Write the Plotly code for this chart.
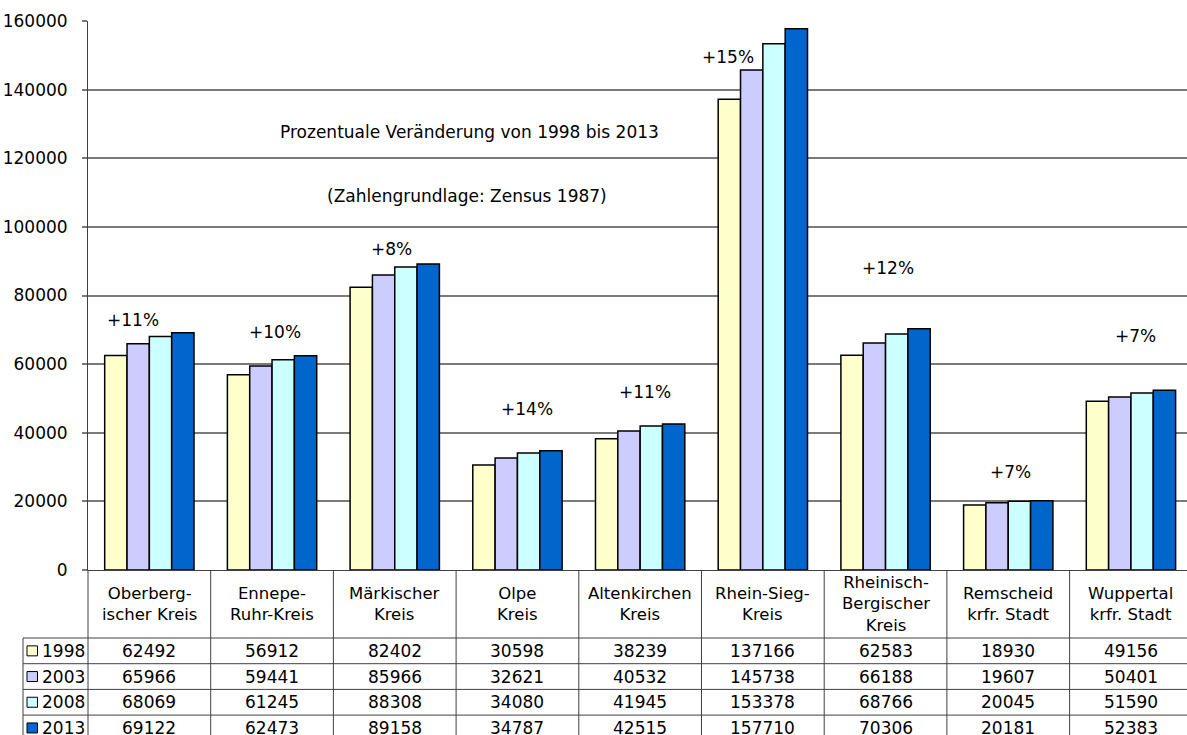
import plotly.graph_objects as go

# --- data -------------------------------------------------------------------
categories = [
    "Oberberg-<br>ischer Kreis",
    "Ennepe-<br>Ruhr-Kreis",
    "Märkischer<br>Kreis",
    "Olpe<br>Kreis",
    "Altenkirchen<br>Kreis",
    "Rhein-Sieg-<br>Kreis",
    "Rheinisch-<br>Bergischer<br>Kreis",
    "Remscheid<br>krfr. Stadt",
    "Wuppertal<br>krfr. Stadt",
]
years = ["1998", "2003", "2008", "2013"]
values_1998 = [62492, 56912, 82402, 30598, 38239, 137166, 62583, 18930, 49156]
values_2003 = [65966, 59441, 85966, 32621, 40532, 145738, 66188, 19607, 50401]
values_2008 = [68069, 61245, 88308, 34080, 41945, 153378, 68766, 20045, 51590]
values_2013 = [69122, 62473, 89158, 34787, 42515, 157710, 70306, 20181, 52383]
change_labels = ["+11%", "+10%", "+8%", "+14%", "+11%", "+15%", "+12%", "+7%", "+7%"]
y_ticks = [0, 20000, 40000, 60000, 80000, 100000, 120000, 140000, 160000]

series = [values_1998, values_2003, values_2008, values_2013]
colors = ["#FFFFCC", "#CCCCFF", "#CCFFFF", "#0066CC"]

# --- geometry ---------------------------------------------------------------
W, H = 1187, 735
M_L, M_T, M_B = 88, 21, 165
PLOT_W = W - M_L
PLOT_H = H - M_T - M_B
CAT_PX = 122.7
X0 = -0.5
X1 = X0 + PLOT_W / CAT_PX
FONT = "DejaVu Sans"
LINE = "#404040"
NUM_SIZE = 17
TXT_SIZE = 16.5


def px_x(px):
    return (px - M_L) / PLOT_W


def px_y(py):
    return (H - M_B - py) / PLOT_H


def cat_x(v):
    return (v - X0) / (X1 - X0)


def text_note(x, y, text, size=NUM_SIZE, xanchor="center", xref="paper", yref="paper"):
    return dict(x=x, y=y, xref=xref, yref=yref, text=text, showarrow=False,
                xanchor=xanchor, yanchor="middle",
                font=dict(family=FONT, size=size, color="black"))


fig = go.Figure()
xs = list(range(len(categories)))
for name, vals, col in zip(years, series, colors):
    fig.add_trace(go.Bar(
        x=xs, y=vals, name=name,
        marker=dict(color=col, line=dict(color="black", width=1.5)),
    ))

shapes = []
annotations = []

# percentage change label above each group
label_dx = [-0.13, 0.02, -0.03, 0.08, 0.04, -0.28, 0.02, 0.02, 0.04]
label_y = [72900, 69300, 93500, 47000, 51900, 149500, 88000, 28600, 68200]
for i, txt in enumerate(change_labels):
    annotations.append(text_note(i + label_dx[i], label_y[i], txt, xref="x", yref="y"))

annotations.append(text_note(px_x(469), px_y(132),
                             "Prozentuale Veränderung von 1998 bis 2013", size=17))
annotations.append(text_note(px_x(467), px_y(196),
                             "(Zahlengrundlage: Zensus 1987)", size=17))

# category label band and data table beneath the axis
axis_py = H - M_B
head_bot = 638
row_h = 25.7
n_rows = len(years)
table_bot = head_bot + row_h * n_rows
left_px = 23

for i, cat in enumerate(categories):
    annotations.append(text_note(cat_x(i), px_y((axis_py + head_bot) / 2), cat,
                                 size=TXT_SIZE))

# vertical separators
for b in range(len(categories) + 1):
    xb = cat_x(b - 0.5)
    if xb > 1.001:
        continue
    shapes.append(dict(type="line", xref="paper", yref="paper",
                       x0=xb, x1=xb, y0=px_y(axis_py), y1=px_y(table_bot),
                       line=dict(color=LINE, width=1)))
shapes.append(dict(type="line", xref="paper", yref="paper",
                   x0=px_x(left_px), x1=px_x(left_px),
                   y0=px_y(head_bot), y1=px_y(table_bot),
                   line=dict(color=LINE, width=1)))

# horizontal row lines
for r in range(n_rows + 1):
    yr = px_y(head_bot + r * row_h)
    shapes.append(dict(type="line", xref="paper", yref="paper",
                       x0=px_x(left_px), x1=1, y0=yr, y1=yr,
                       line=dict(color=LINE, width=1)))

for r, (name, vals, col) in enumerate(zip(years, series, colors)):
    yc = head_bot + r * row_h + row_h / 2
    shapes.append(dict(type="rect", xref="paper", yref="paper",
                       x0=px_x(27), x1=px_x(37.5),
                       y0=px_y(yc - 5), y1=px_y(yc + 5),
                       fillcolor=col, line=dict(color="black", width=1)))
    annotations.append(text_note(px_x(40), px_y(yc), name, xanchor="left"))
    for i, v in enumerate(vals):
        annotations.append(text_note(cat_x(i), px_y(yc), str(v)))

fig.update_layout(
    width=W, height=H, autosize=False,
    margin=dict(l=M_L, r=0, t=M_T, b=M_B, pad=0),
    paper_bgcolor="white", plot_bgcolor="white",
    barmode="group", bargap=0.272, bargroupgap=0,
    showlegend=False,
    shapes=shapes, annotations=annotations,
    xaxis=dict(range=[X0, X1], showticklabels=False, ticks="", showgrid=False,
               zeroline=False, showline=True, linecolor=LINE, linewidth=1),
    yaxis=dict(range=[0, 160000], tickvals=y_ticks, ticktext=[str(t) for t in y_ticks],
               showgrid=True, gridcolor="#7a7a7a", gridwidth=1.5, zeroline=False,
               showline=True, linecolor=LINE, linewidth=1,
               ticks="outside", ticklen=5, tickcolor="#7a7a7a", tickwidth=1.5,
               ticklabelstandoff=11,
               tickfont=dict(family=FONT, size=NUM_SIZE, color="black")),
)

fig.write_html("out.html")
